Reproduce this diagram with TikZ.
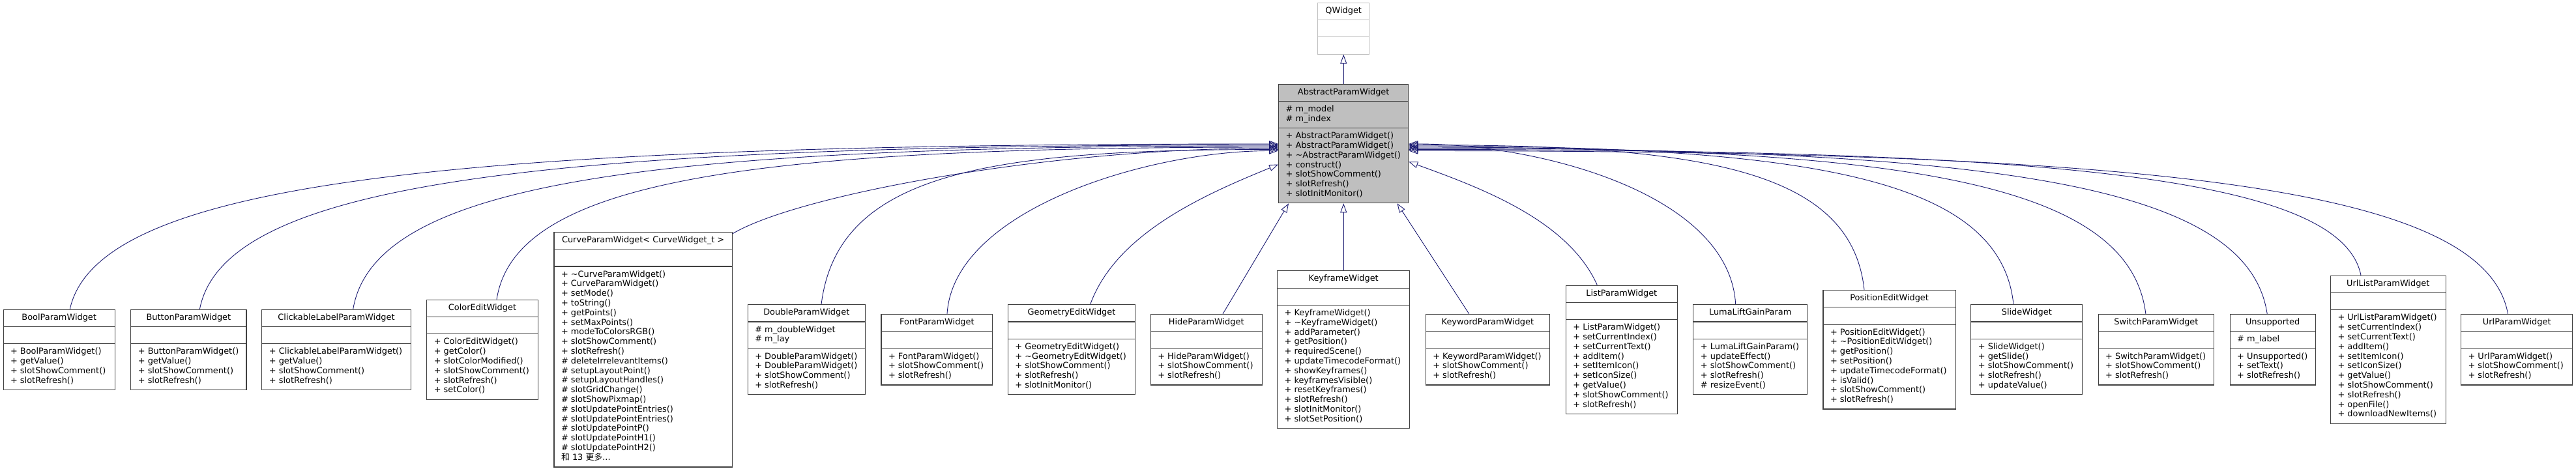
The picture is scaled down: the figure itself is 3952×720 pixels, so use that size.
\documentclass[tikz,border=0pt]{standalone}
\usepackage{fontspec}
\setmainfont{DejaVu Sans}
\newfontfamily\cjk{Noto Sans CJK SC}
\usetikzlibrary{shapes.multipart,arrows.meta}
\definecolor{edgeblue}{HTML}{191970}
\definecolor{boxgray}{HTML}{404040}
\definecolor{basegray}{HTML}{BFBFBF}
\newcommand\umlfont{\fontsize{12.9}{14.8}\selectfont}
\newcommand\members[1]{\begin{tabular}{@{}l@{}}#1\end{tabular}}

\tikzset{classe/.style = {rectangle split, rectangle split parts=3, draw=boxgray, line width=1.1pt,
                          fill=white, inner xsep=11pt, inner ysep=5.2pt, font=\umlfont,
                          rectangle split part align={center,left,left}, minimum width=#1},
         classe/.default=100pt,
         herite/.style = {draw=edgeblue, line width=0.9pt, -{Triangle[open,length=14pt,width=10pt]}}
        }

\begin{document}
\begin{tikzpicture}[x=1pt, y=-1pt]
  \useasboundingbox (0,0) rectangle (3952,720);
  \node[classe=79pt, draw=basegray] (qwidget) at (2061.2,43.7) {QWidget\strut \nodepart{two}\strut \nodepart{three}\strut};
  \node[classe=199pt, fill=basegray] (apw) at (2061.2,220.5) {AbstractParamWidget\strut
    \nodepart{two}\members{\# m\_model\\\# m\_index}
    \nodepart{three}\members{+ AbstractParamWidget()\\+ AbstractParamWidget()\\+ \textasciitilde{}AbstractParamWidget()\\+ construct()\\+ slotShowComment()\\+ slotRefresh()\\+ slotInitMonitor()}};

  \node[classe=171.2pt] (bool) at (90.7,536.7) {BoolParamWidget\strut \nodepart{two}\strut
    \nodepart{three}\members{+ BoolParamWidget()\\+ getValue()\\+ slotShowComment()\\+ slotRefresh()}};
  \node[classe=177.1pt] (button) at (289.4,536.7) {ButtonParamWidget\strut \nodepart{two}\strut
    \nodepart{three}\members{+ ButtonParamWidget()\\+ getValue()\\+ slotShowComment()\\+ slotRefresh()}};
  \node[classe=228.2pt] (clickable) at (516,536.7) {ClickableLabelParamWidget\strut \nodepart{two}\strut
    \nodepart{three}\members{+ ClickableLabelParamWidget()\\+ getValue()\\+ slotShowComment()\\+ slotRefresh()}};
  \node[classe=170.5pt] (coloredit) at (740,536.7) {ColorEditWidget\strut \nodepart{two}\strut
    \nodepart{three}\members{+ ColorEditWidget()\\+ getColor()\\+ slotColorModified()\\+ slotShowComment()\\+ slotRefresh()\\+ setColor()}};
  \node[classe=273.2pt] (curve) at (986.6,536.7) {CurveParamWidget< CurveWidget\_t >\strut \nodepart{two}\strut
    \nodepart{three}\members{+ \textasciitilde{}CurveParamWidget()\\+ CurveParamWidget()\\+ setMode()\\+ toString()\\+ getPoints()\\+ setMaxPoints()\\+ modeToColorsRGB()\\+ slotShowComment()\\+ slotRefresh()\\\# deleteIrrelevantItems()\\\# setupLayoutPoint()\\\# setupLayoutHandles()\\\# slotGridChange()\\\# slotShowPixmap()\\\# slotUpdatePointEntries()\\\# slotUpdatePointEntries()\\\# slotUpdatePointP()\\\# slotUpdatePointH1()\\\# slotUpdatePointH2()\\{\cjk 和} 13 {\cjk 更多}...}};
  \node[classe=180pt] (double) at (1237.3,536.7) {DoubleParamWidget\strut
    \nodepart{two}\members{\# m\_doubleWidget\\\# m\_lay}
    \nodepart{three}\members{+ DoubleParamWidget()\\+ DoubleParamWidget()\\+ slotShowComment()\\+ slotRefresh()}};
  \node[classe=170.8pt] (font) at (1437.4,536.7) {FontParamWidget\strut \nodepart{two}\strut
    \nodepart{three}\members{+ FontParamWidget()\\+ slotShowComment()\\+ slotRefresh()}};
  \node[classe=195.3pt] (geometry) at (1644,536.7) {GeometryEditWidget\strut \nodepart{two}\strut
    \nodepart{three}\members{+ GeometryEditWidget()\\+ \textasciitilde{}GeometryEditWidget()\\+ slotShowComment()\\+ slotRefresh()\\+ slotInitMonitor()}};
  \node[classe=170.8pt] (hide) at (1850.7,536.7) {HideParamWidget\strut \nodepart{two}\strut
    \nodepart{three}\members{+ HideParamWidget()\\+ slotShowComment()\\+ slotRefresh()}};
  \node[classe=203.2pt] (keyframe) at (2061.2,536.7) {KeyframeWidget\strut \nodepart{two}\strut
    \nodepart{three}\members{+ KeyframeWidget()\\+ \textasciitilde{}KeyframeWidget()\\+ addParameter()\\+ getPosition()\\+ requiredScene()\\+ updateTimecodeFormat()\\+ showKeyframes()\\+ keyframesVisible()\\+ resetKeyframes()\\+ slotRefresh()\\+ slotInitMonitor()\\+ slotSetPosition()}};
  \node[classe=190.2pt] (keyword) at (2282.4,536.7) {KeywordParamWidget\strut \nodepart{two}\strut
    \nodepart{three}\members{+ KeywordParamWidget()\\+ slotShowComment()\\+ slotRefresh()}};
  \node[classe=170.9pt] (list) at (2487.8,536.7) {ListParamWidget\strut \nodepart{two}\strut
    \nodepart{three}\members{+ ListParamWidget()\\+ setCurrentIndex()\\+ setCurrentText()\\+ addItem()\\+ setItemIcon()\\+ setIconSize()\\+ getValue()\\+ slotShowComment()\\+ slotRefresh()}};
  \node[classe=174.6pt] (luma) at (2685.2,536.7) {LumaLiftGainParam\strut \nodepart{two}\strut
    \nodepart{three}\members{+ LumaLiftGainParam()\\+ updateEffect()\\+ slotShowComment()\\+ slotRefresh()\\\# resizeEvent()}};
  \node[classe=203.2pt] (position) at (2898.6,536.7) {PositionEditWidget\strut \nodepart{two}\strut
    \nodepart{three}\members{+ PositionEditWidget()\\+ \textasciitilde{}PositionEditWidget()\\+ getPosition()\\+ setPosition()\\+ updateTimecodeFormat()\\+ isValid()\\+ slotShowComment()\\+ slotRefresh()}};
  \node[classe=170.9pt] (slide) at (3109.3,536.7) {SlideWidget\strut \nodepart{two}\strut
    \nodepart{three}\members{+ SlideWidget()\\+ getSlide()\\+ slotShowComment()\\+ slotRefresh()\\+ updateValue()}};
  \node[classe=177.4pt] (switch) at (3307.9,536.7) {SwitchParamWidget\strut \nodepart{two}\strut
    \nodepart{three}\members{+ SwitchParamWidget()\\+ slotShowComment()\\+ slotRefresh()}};
  \node[classe=130.9pt] (unsupported) at (3486.6,536.7) {Unsupported\strut
    \nodepart{two}\members{\# m\_label}
    \nodepart{three}\members{+ Unsupported()\\+ setText()\\+ slotRefresh()}};
  \node[classe=176.5pt] (urllist) at (3663.8,536.7) {UrlListParamWidget\strut \nodepart{two}\strut
    \nodepart{three}\members{+ UrlListParamWidget()\\+ setCurrentIndex()\\+ setCurrentText()\\+ addItem()\\+ setItemIcon()\\+ setIconSize()\\+ getValue()\\+ slotShowComment()\\+ slotRefresh()\\+ openFile()\\+ downloadNewItems()}};
  \node[classe=171.3pt] (urlparam) at (3861.2,536.7) {UrlParamWidget\strut \nodepart{two}\strut
    \nodepart{three}\members{+ UrlParamWidget()\\+ slotShowComment()\\+ slotRefresh()}};

  \draw[herite] (apw.north) -- (qwidget.south);
  \draw[herite] ([xshift=16.6pt]bool.north) .. controls +(43,-197) and +(-1260,0) .. ([yshift=-0.5pt]apw.west);
  \draw[herite] ([xshift=17pt]button.north) .. controls +(38,-196) and +(-1125,0) .. ([yshift=-2pt]apw.west);
  \draw[herite] ([xshift=25.7pt]clickable.north) .. controls +(33,-195) and +(-966,0) .. ([yshift=-3.5pt]apw.west);
  \draw[herite] ([xshift=22pt]coloredit.north) .. controls +(28,-182) and +(-816,0) .. ([yshift=-5.5pt]apw.west);
  \draw[herite] ([yshift=-3pt]curve.north east) .. controls +(100,-60) and +(-350,0) .. ([yshift=-7pt]apw.west);
  \draw[herite] ([xshift=22.7pt]double.north) .. controls +(25,-200) and +(-450,0) .. ([yshift=-9pt]apw.west);
  \draw[herite] ([xshift=15.6pt]font.north) .. controls +(10,-160) and +(-200,0) .. ([yshift=-11pt]apw.west);
  \draw[herite] ([xshift=28.7pt]geometry.north) .. controls +(40,-110) and +(-110,45) .. ([yshift=-32pt]apw.west);
  \draw[herite] ([xshift=25.3pt]hide.north) -- ([xshift=-84.2pt]apw.south);
  \draw[herite] (keyframe.north) -- (apw.south);
  \draw[herite] ([xshift=-28.6pt]keyword.north) -- ([xshift=82.3pt]apw.south);
  \draw[herite] ([xshift=-37.5pt]list.north) .. controls +(-45,-100) and +(110,40) .. ([yshift=-27.8pt]apw.east);
  \draw[herite] ([xshift=-22.5pt]luma.north) .. controls +(-10,-170) and +(200,0) .. ([yshift=-0.5pt]apw.east);
  \draw[herite] ([xshift=-38.6pt]position.north) .. controls +(-20,-185) and +(450,0) .. ([yshift=-2pt]apw.east);
  \draw[herite] ([xshift=-20.3pt]slide.north) .. controls +(-20,-190) and +(630,0) .. ([yshift=-3.5pt]apw.east);
  \draw[herite] ([xshift=-16pt]switch.north) .. controls +(-25,-200) and +(770,0) .. ([yshift=-5.5pt]apw.east);
  \draw[herite] ([xshift=-8.4pt]unsupported.north) .. controls +(-30,-200) and +(900,0) .. ([yshift=-7pt]apw.east);
  \draw[herite] ([xshift=-41.8pt]urllist.north) .. controls +(-30,-150) and +(1000,0) .. ([yshift=-9pt]apw.east);
  \draw[herite] ([xshift=-13.7pt]urlparam.north) .. controls +(-35,-195) and +(1150,0) .. ([yshift=-11pt]apw.east);
\end{tikzpicture}
\end{document}
